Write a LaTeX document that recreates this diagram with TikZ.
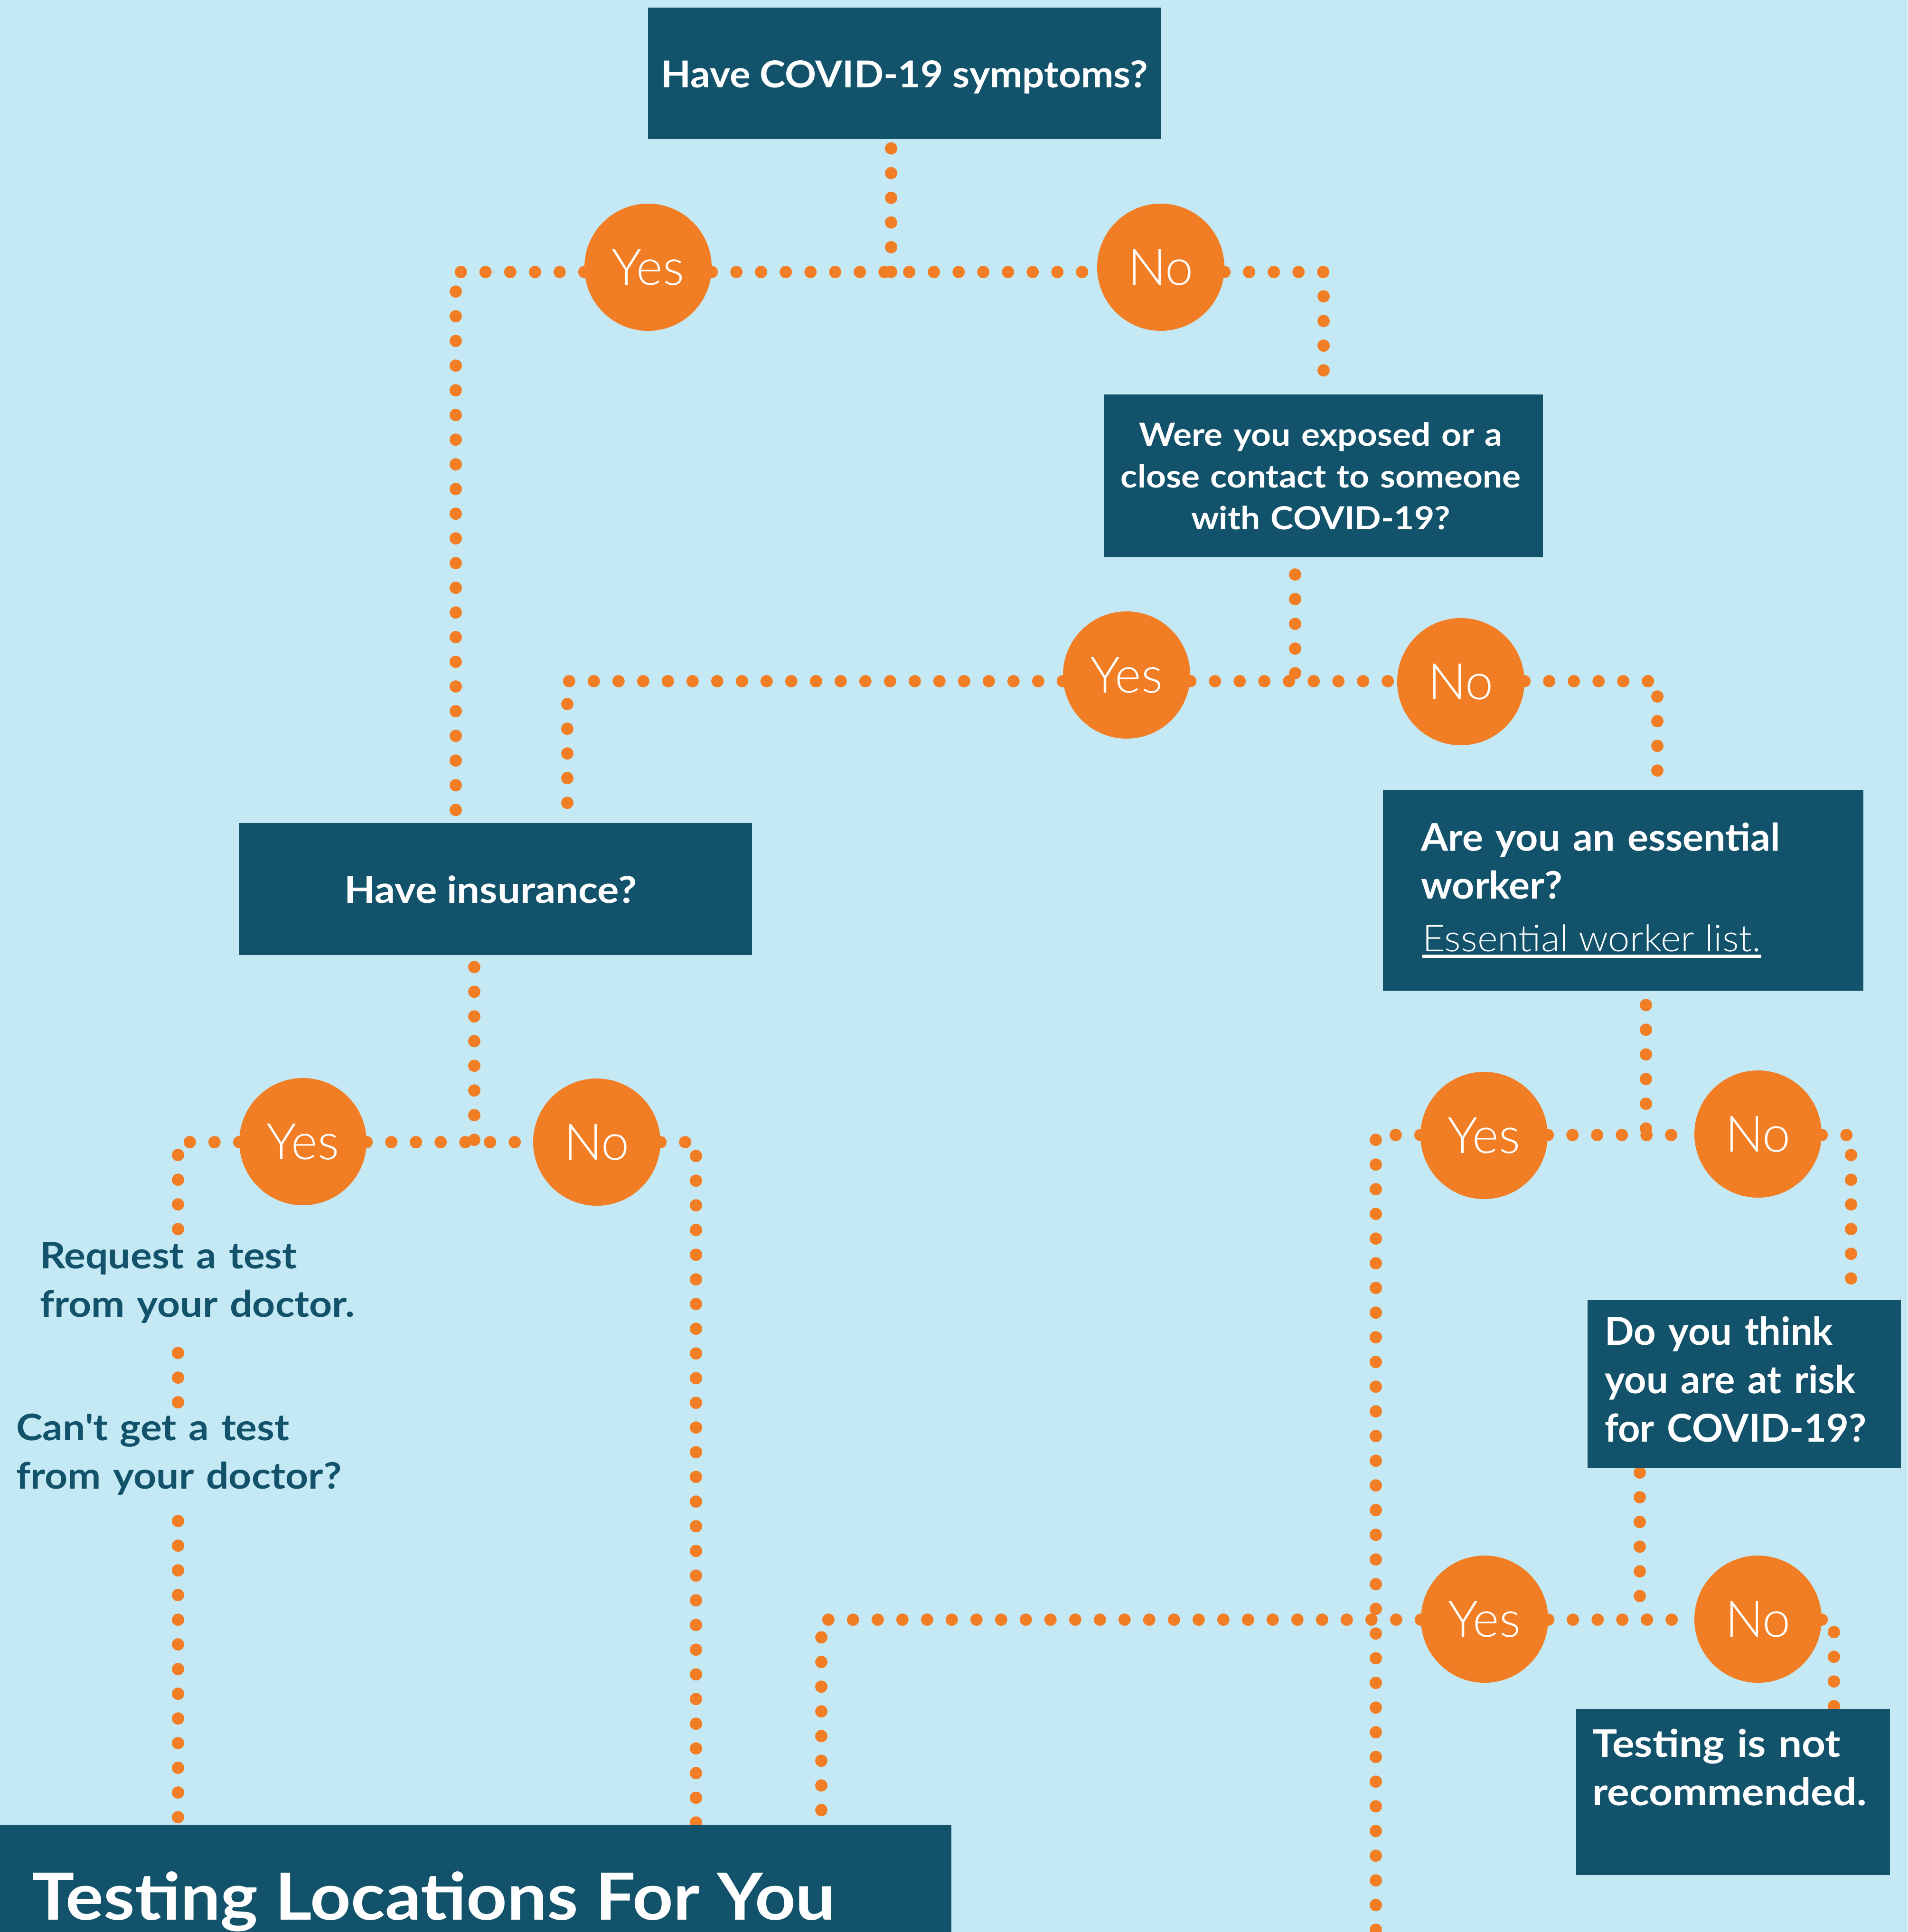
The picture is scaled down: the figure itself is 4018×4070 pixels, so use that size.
\documentclass[tikz,border=0pt]{standalone}
\usepackage{fontspec}
\setmainfont{Lato}
\newfontfamily\stA{Lato}[FakeStretch=1.03]
\newfontfamily\stB{Lato}[FakeStretch=1.05]
\newfontfamily\stC{Lato}[FakeStretch=1.09]
\IfFontExistsTF{Lato Light}{\newfontfamily\lightfont{Lato Light}\newfontfamily\lightwide{Lato Light}[FakeStretch=1.045]}{%
  \IfFontExistsTF{Open Sans Light}{\newfontfamily\lightfont{Open Sans Light}\newfontfamily\lightwide{Open Sans Light}}{\newfontfamily\lightfont{Lato}\newfontfamily\lightwide{Lato}}}
\definecolor{bgblue}{RGB}{196,233,244}
\definecolor{darkteal}{RGB}{18,83,107}
\definecolor{dotorange}{RGB}{241,126,36}
\pgfdeclarelayer{bg}
\pgfdeclarelayer{lines}
\pgfsetlayers{bg,lines,main}
\begin{document}
\begin{tikzpicture}[x=1pt,y=-1pt,
  qbox/.style={fill=darkteal, draw=none, inner sep=0pt},
  ans/.style={circle, fill=dotorange, draw=none, inner sep=0pt, minimum size=268pt,
    text=white, font=\lightfont\fontsize{106}{106}\selectfont},
  dots/.style={draw=dotorange, line width=26pt, line cap=round, dash pattern=on 0pt off 52pt},
  btext/.style={text=white, inner sep=0pt, font=\stB\bfseries\fontsize{78}{100}\selectfont},
  dtext/.style={text=darkteal, inner sep=0pt, font=\stC\bfseries\fontsize{77}{102}\selectfont}]
\useasboundingbox (0,0) rectangle (4018,4070);
\clip (0,0) rectangle (4018,4070);
\begin{pgfonlayer}{bg}
\fill[bgblue] (0,0) rectangle (4018,4070);
\end{pgfonlayer}

% boxes
\node[qbox, minimum width=1080pt, minimum height=277pt] (box1) at (1905,155) {};
\node[qbox, minimum width=924pt, minimum height=343pt] (box2) at (2788,1002.5) {};
\node[qbox, minimum width=1080pt, minimum height=278pt] (box3) at (1044,1873) {};
\node[qbox, minimum width=1012pt, minimum height=423pt] (box4) at (3419,1875.5) {};
\node[qbox, minimum width=660pt, minimum height=353pt] (box5) at (3674,2915.5) {};
\node[qbox, minimum width=661pt, minimum height=350pt] (box6) at (3650.5,3775) {};
\node[qbox, minimum width=2004pt, minimum height=400pt] (box7) at (1002,4044) {};

% texts
\node[btext, anchor=base] (t1) at (1905,185) {Have COVID-19 symptoms?};
\node[btext, anchor=base, text width=980pt, align=center,
  font=\stC\bfseries\fontsize{67}{88}\selectfont] (t2) at (2782,939)
  {Were you exposed or a\\close contact to someone\\with COVID-19?};
\node[btext, anchor=base, font=\stC\bfseries\fontsize{78}{100}\selectfont] (t3) at (1033,1902) {Have insurance?};
\node[btext, anchor=base west, text width=900pt, align=left,
  font=\stA\bfseries\fontsize{80}{101}\selectfont] (t4) at (2993,1792)
  {Are you an essential\\worker?};
\node[btext, anchor=base west, font=\lightwide\fontsize{78}{100}\selectfont] (link) at (2996,2004)
  {Essential worker list.};
\draw[white, line width=7pt] ([yshift=-10pt]link.base west) -- ([yshift=-10pt]link.base east);
\node[btext, anchor=base west, text width=640pt, align=left,
  font=\bfseries\fontsize{81}{102}\selectfont] (t5) at (3380,2833)
  {Do you think\\you are at risk\\for COVID-19?};
\node[btext, anchor=base west, text width=640pt, align=left,
  font=\stC\bfseries\fontsize{80}{102}\selectfont] (t6) at (3354,3701)
  {Testing is not\\recommended.};
\node[dtext, anchor=base west, text width=900pt, align=left] (req) at (84,2672)
  {Request a test\\from your doctor.};
\node[dtext, anchor=base west, text width=900pt, align=left] (cant) at (34,3034)
  {Can\textquotesingle t get a test\\from your doctor?};
\node[btext, anchor=base west, font=\stC\bfseries\fontsize{137}{137}\selectfont] (t7) at (67,4044)
  {Testing Locations For You};

% answer circles
\node[ans] (yes1) at (1365,563) {Yes};
\node[ans] (no1) at (2445,563) {No};
\node[ans] (yes2) at (2373,1422) {Yes};
\node[ans] (no2) at (3077,1436) {No};
\node[ans] (yes3) at (638,2405) {Yes};
\node[ans] (no3) at (1257,2406) {No};
\node[ans] (yes4) at (3126,2392) {Yes};
\node[ans] (no4) at (3703,2389) {No};
\node[ans] (yes5) at (3127,3411) {Yes};
\node[ans] (no5) at (3703,3411) {No};

% corner coordinates
\coordinate (j1) at (1877,573);
\coordinate (c1) at (960,573);
\coordinate (c2) at (2788,573);
\coordinate (j2) at (2728,1435);
\coordinate (c3) at (1195,1435);
\coordinate (c4) at (3491,1435);
\coordinate (j3) at (999,2406);
\coordinate (c5) at (375,2406);
\coordinate (c6) at (1466,2406);
\coordinate (j4) at (3467,2391);
\coordinate (c7) at (2898,2391);
\coordinate (c8) at (3899,2391);
\coordinate (j5) at (3454,3412);
\coordinate (c9) at (1730,3412);
\coordinate (c10) at (3863,3412);
\coordinate (pageend) at (2898,4120);

\begin{pgfonlayer}{lines}
% level 1
\draw[dots] ([yshift=-19pt]j1 |- box1.south) -- (j1);
\draw[dots] (yes1.east |- j1) -- (no1.west |- j1);
\draw[dots] (yes1.west |- c1) -- (c1) -- (c1 |- box3.north);
\draw[dots] (no1.east |- c2) -- (c2) -- (c2 |- box2.north);
% level 2
\draw[dots] ([yshift=-36pt]j2 |- box2.south) -- (j2);
\draw[dots] (yes2.east |- j2) -- (no2.west |- j2);
\draw[dots] (yes2.west |- c3) -- (c3) -- (c3 |- box3.north);
\draw[dots] (no2.east |- c4) -- (c4) -- (c4 |- box4.north);
% level 3
\draw[dots] ([yshift=-25pt]j3 |- box3.south) -- (j3);
\draw[dots] (yes3.east |- j3) -- (no3.west |- j3);
\draw[dots] (yes3.west |- c5) -- (c5) -- ([yshift=-14pt]c5 |- req.north);
\draw[dots] ([yshift=-63pt]c5 |- req.south) -- ([yshift=-2pt]c5 |- cant.north);
\draw[dots] ([yshift=-55pt]c5 |- cant.south) -- (c5 |- box7.north);
\draw[dots] (no3.east |- c6) -- (c6) -- (c6 |- box7.north);
% level 4
\draw[dots] ([yshift=-30pt]j4 |- box4.south) -- (j4);
\draw[dots] (yes4.east |- j4) -- (no4.west |- j4);
\draw[dots] (yes4.west |- c7) -- (c7) -- (pageend);
\draw[dots] (no4.east |- c8) -- (c8) -- (c8 |- box5.north);
% level 5
\draw[dots] ([yshift=-10pt]j5 |- box5.south) -- (j5);
\draw[dots] (yes5.east |- j5) -- (no5.west |- j5);
\draw[dots] (yes5.west |- c9) -- (c9) -- (c9 |- box7.north);
\draw[dots] (no5.east |- c10) -- (c10) -- (c10 |- box6.north);
\end{pgfonlayer}
\end{tikzpicture}
\end{document}
